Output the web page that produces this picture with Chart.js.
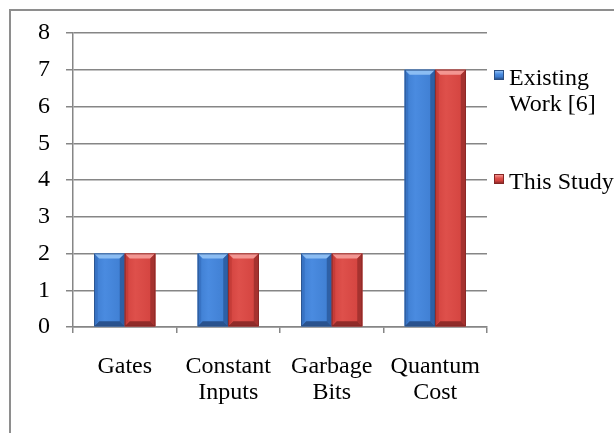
<!DOCTYPE html>
<html>
<head>
<meta charset="utf-8">
<script src="https://cdn.jsdelivr.net/npm/chart.js@4.4.1/dist/chart.umd.min.js"></script>
<style>
  html, body { margin: 0; padding: 0; background: #ffffff; overflow: hidden; }
  #wrap { position: relative; width: 614px; height: 433px; overflow: hidden;
          font-family: "Liberation Serif", "Times New Roman", serif; }
  #frame { position: absolute; left: 9px; top: 9px; width: 700px; height: 500px;
           border: 2px solid #8e8e8e; box-sizing: border-box; }
  #chart { position: absolute; left: 0; top: 0; }
  .legend-item { position: absolute; left: 494px; font-size: 24px; line-height: 26px; color: #000; }
  .swatch { position: absolute; left: 0; width: 10px; height: 10px; box-sizing: border-box; }
  .legend-text { position: absolute; left: 15px; top: 0; white-space: nowrap; }
</style>
</head>
<body>
<div id="wrap">
  <div id="frame"></div>
  <canvas id="chart" width="614" height="433"></canvas>
  <div id="legend"></div>
</div>
<script>
// Categories (multi-line tick labels)
const categories = [["Gates"], ["Constant", "Inputs"], ["Garbage", "Bits"], ["Quantum", "Cost"]];

// Series values
const existingWork = [2, 2, 2, 7];
const thisStudy = [2, 2, 2, 7];

// Series names, split over lines as shown in the legend
const seriesNames = [["Existing", "Work [6]"], ["This Study"]];

// Y axis range
const yMin = 0, yMax = 8, yStep = 1;

// Bevel shading for each series
const palettes = [
  { face: "#3e7dd0", faceHi: "#4a8be0", top: "#8cbdf3", left: "#3873c4", right: "#2e60a6", bottom: "#29528e", edge: "#2a4f84" },
  { face: "#d2423e", faceHi: "#de504b", top: "#f39692", left: "#c53c38", right: "#a5322f", bottom: "#902b29", edge: "#842725" }
];

const bevelPlugin = {
  id: "bevel",
  afterDatasetsDraw(chart) {
    const ctx = chart.ctx;
    chart.data.datasets.forEach((ds, di) => {
      const meta = chart.getDatasetMeta(di);
      const pal = palettes[di];
      meta.data.forEach(el => {
        const p = el.getProps(["x", "y", "base", "width"], true);
        const l = p.x - p.width / 2, r = p.x + p.width / 2;
        const t = Math.min(p.y, p.base), b = Math.max(p.y, p.base);
        const d = Math.min(5, p.width / 4, (b - t) / 4);
        ctx.save();
        // face
        const g = ctx.createLinearGradient(l, 0, r, 0);
        g.addColorStop(0, pal.face);
        g.addColorStop(0.35, pal.faceHi);
        g.addColorStop(1, pal.face);
        ctx.fillStyle = g;
        ctx.fillRect(l, t, r - l, b - t);
        const poly = (pts, color) => {
          ctx.beginPath();
          ctx.moveTo(pts[0][0], pts[0][1]);
          for (let i = 1; i < pts.length; i++) ctx.lineTo(pts[i][0], pts[i][1]);
          ctx.closePath();
          ctx.fillStyle = color;
          ctx.fill();
        };
        poly([[l, t], [r, t], [r - d, t + d], [l + d, t + d]], pal.top);
        poly([[l, t], [l + d * 0.7, t + d], [l + d * 0.7, b - d], [l, b]], pal.left);
        poly([[r, t], [r, b], [r - d, b - d], [r - d, t + d]], pal.right);
        poly([[l, b], [l + d, b - d], [r - d, b - d], [r, b]], pal.bottom);
        ctx.strokeStyle = pal.edge;
        ctx.lineWidth = 0.8;
        ctx.strokeRect(l + 0.4, t + 0.4, r - l - 0.8, b - t - 0.8);
        ctx.restore();
      });
    });
  }
};

const gridColor = "#868686";
const tickFont = { family: "'Liberation Serif', 'Times New Roman', serif", size: 24, lineHeight: 26 / 24 };

new Chart(document.getElementById("chart"), {
  type: "bar",
  data: {
    labels: categories,
    datasets: [
      { label: seriesNames[0].join(" "), data: existingWork, backgroundColor: palettes[0].face, borderWidth: 0 },
      { label: seriesNames[1].join(" "), data: thisStudy, backgroundColor: palettes[1].face, borderWidth: 0 }
    ]
  },
  options: {
    responsive: false,
    animation: false,
    events: [],
    layout: { padding: { left: 0, right: 127, top: 33, bottom: 0 } },
    datasets: { bar: { categoryPercentage: 0.59, barPercentage: 1.0 } },
    plugins: { legend: { display: false }, tooltip: { enabled: false } },
    scales: {
      x: {
        offset: true,
        grid: { display: true, drawOnChartArea: false, drawTicks: true, tickLength: 6, color: gridColor, lineWidth: 1.5 },
        border: { display: true, color: gridColor, width: 1.5 },
        ticks: { color: "#000", font: tickFont, padding: 21, maxRotation: 0, autoSkip: false },
        afterFit(scale) { scale.height = 106; }
      },
      y: {
        min: yMin, max: yMax,
        grid: { color: gridColor, lineWidth: 1.5, drawTicks: true, tickLength: 7 },
        border: { display: true, color: gridColor, width: 1.5 },
        ticks: { stepSize: yStep, color: "#000", font: tickFont, padding: 16 },
        afterFit(scale) { scale.width = 73; }
      }
    }
  },
  plugins: [bevelPlugin]
});

// Legend beside the plot
const legendTops = [64, 168];
const legendEl = document.getElementById("legend");
seriesNames.forEach((lines, i) => {
  const pal = palettes[i];
  const item = document.createElement("div");
  item.className = "legend-item";
  item.style.top = legendTops[i] + "px";
  const sw = document.createElement("div");
  sw.className = "swatch";
  sw.style.top = "6px";
  sw.style.background = `linear-gradient(180deg, ${pal.top} 0%, ${pal.faceHi} 40%, ${pal.face} 70%, ${pal.bottom} 100%)`;
  sw.style.border = `1px solid ${pal.edge}`;
  const tx = document.createElement("div");
  tx.className = "legend-text";
  lines.forEach((ln) => {
    const s = document.createElement("div");
    s.textContent = ln;
    tx.appendChild(s);
  });
  item.appendChild(sw);
  item.appendChild(tx);
  legendEl.appendChild(item);
});
</script>
</body>
</html>
